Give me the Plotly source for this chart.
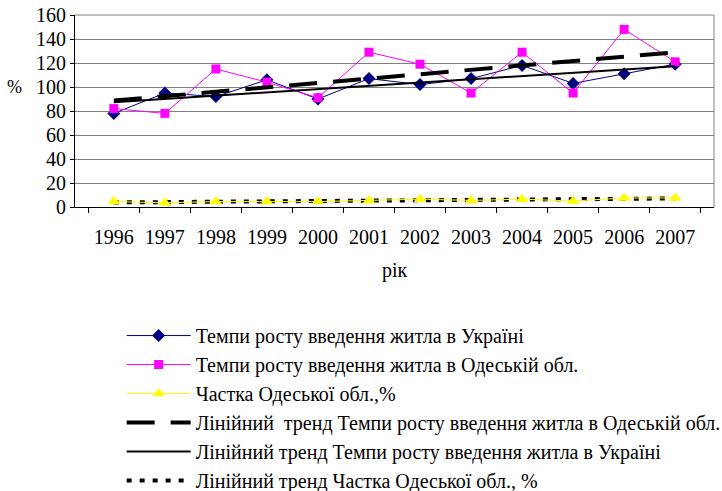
import numpy as np
import plotly.graph_objects as go

years = ['1996', '1997', '1998', '1999', '2000', '2001', '2002', '2003', '2004', '2005', '2006', '2007']
ukraine = [78, 95, 92, 106, 90, 107, 102, 107, 118, 103, 111, 119]
odesa = [82, 78, 115, 104, 91, 129, 119, 95, 129, 95, 148, 121]
share = [4.5, 3.5, 4.5, 4.5, 4.5, 5.5, 6.5, 5.5, 6.5, 5, 7.5, 7.5]

names = ['Темпи росту введення житла в Україні',
         'Темпи росту введення житла в Одеській обл.',
         'Частка Одеської обл.,%',
         'Лінійний\u00a0 тренд Темпи росту введення житла в Одеській обл.',
         'Лінійний тренд Темпи росту введення житла в Україні',
         'Лінійний тренд Частка Одеської обл., %']


def trend(vals):
    idx = np.arange(len(vals))
    k, b = np.polyfit(idx, vals, 1)
    return k * idx + b


font = 'Times New Roman, Liberation Serif, serif'
fig = go.Figure()
fig.add_trace(go.Scatter(x=years, y=ukraine, name=names[0], mode='lines+markers', legendrank=1,
                         line=dict(color='#000080', width=1),
                         marker=dict(symbol='diamond', size=10, color='#000080')))
fig.add_trace(go.Scatter(x=years, y=odesa, name=names[1], mode='lines+markers', legendrank=2,
                         line=dict(color='#FF00FF', width=1),
                         marker=dict(symbol='square', size=9, color='#FF00FF')))
fig.add_trace(go.Scatter(x=years, y=trend(share), name=names[5], mode='lines', legendrank=6,
                         line=dict(color='black', width=4, dash='5px,8px')))
fig.add_trace(go.Scatter(x=years, y=share, name=names[2], mode='lines+markers', legendrank=3,
                         line=dict(color='#FFFF00', width=1),
                         marker=dict(symbol='triangle-up', size=11, color='#FFFF00')))
fig.add_trace(go.Scatter(x=years, y=trend(odesa), name=names[3], mode='lines', legendrank=4,
                         line=dict(color='black', width=4, dash='28px,16px')))
fig.add_trace(go.Scatter(x=years, y=trend(ukraine), name=names[4], mode='lines', legendrank=5,
                         line=dict(color='black', width=2)))

fig.update_layout(
    width=722, height=491,
    margin=dict(l=75, r=8, t=15, b=284, autoexpand=False),
    paper_bgcolor='white', plot_bgcolor='white',
    font=dict(family=font, color='black', size=20),
    showlegend=True,
    legend=dict(x=0.073, y=-0.568, xanchor='left', yanchor='top',
                font=dict(size=20), itemwidth=64, tracegroupgap=0,
                bgcolor='rgba(0,0,0,0)'),
    annotations=[
        dict(text='рік', x=0.5, y=-0.33, xref='paper', yref='paper', showarrow=False,
             font=dict(size=20), xanchor='center', yanchor='middle'),
        dict(text='%', x=-0.094, y=0.625, xref='paper', yref='paper', showarrow=False,
             font=dict(size=18), xanchor='center', yanchor='middle'),
    ],
)
fig.update_xaxes(type='category', showline=True, linecolor='black', linewidth=1,
                 ticks='outside', tickson='boundaries', ticklen=5, tickcolor='black',
                 showgrid=False, mirror=False, ticklabelstandoff=12, automargin=False,
                 tickfont=dict(size=20))
fig.update_yaxes(range=[0, 160], dtick=20, showline=True, linecolor='black', linewidth=1,
                 ticks='outside', ticklen=4, tickcolor='black', automargin=False,
                 gridcolor='#808080', gridwidth=1, zeroline=False,
                 tickfont=dict(size=20))
# gray frame on top and right like the original
fig.add_shape(type='line', xref='paper', yref='paper', x0=1, x1=1, y0=0, y1=1,
              line=dict(color='#808080', width=1))
fig.add_shape(type='line', xref='paper', yref='paper', x0=0, x1=1, y0=1, y1=1,
              line=dict(color='#808080', width=1))

# drop the default 8px body margin so the chart sits at the page corner
fig.write_html('out.html', config={'displayModeBar': False},
               post_script="document.body.style.margin='0';")
